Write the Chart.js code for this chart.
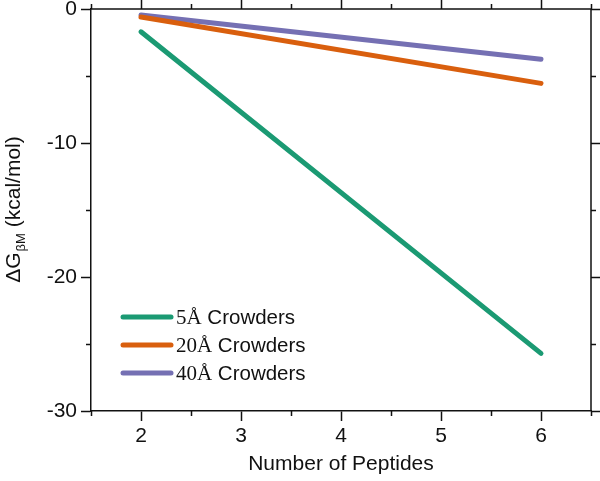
<!DOCTYPE html>
<html>
<head>
<meta charset="utf-8">
<script src="https://cdn.jsdelivr.net/npm/chart.js@4/dist/chart.umd.min.js"></script>
<style>
  html, body { margin: 0; padding: 0; background: #fff; }
  #wrap { width: 600px; height: 481px; }
</style>
</head>
<body>
<div id="wrap"><canvas id="chart"></canvas></div>
<script>
// ---- data ----
const peptides = [2, 6];
const crowder5 = [-1.7, -25.7];
const crowder20 = [-0.6, -5.55];
const crowder40 = [-0.45, -3.75];
const seriesLabels = ['5Å Crowders', '20Å Crowders', '40Å Crowders'];
const seriesColors = ['#1b9a73', '#d95f0e', '#7570b3'];

const AXIS = '#111';
const SANS = '"Liberation Sans", Arial, sans-serif';
const SERIF = '"Liberation Serif", "Times New Roman", serif';

function pts(ys) {
    return peptides.map((x, i) => ({ x: x, y: ys[i] }));
}

// minor ticks + top/right frame + legend + y title
const decor = {
    id: 'decor',
    afterDraw(chart) {
        const ctx = chart.ctx;
        const a = chart.chartArea;
        const xs = chart.scales.x;
        const ys = chart.scales.y;
        ctx.save();
        ctx.strokeStyle = AXIS;
        ctx.lineWidth = 1.5;
        // top + right border
        ctx.beginPath();
        ctx.moveTo(a.left, a.top); ctx.lineTo(a.right, a.top);
        ctx.moveTo(a.right, a.top); ctx.lineTo(a.right, a.bottom);
        ctx.stroke();

        ctx.beginPath();
        for (let v = 1.5; v <= 6.5001; v += 0.5) {
            const px = Math.round(xs.getPixelForValue(v)) + 0.5;
            const major = Math.abs(v - Math.round(v)) < 1e-6;
            const len = major ? 10 : 5;
            if (!major) { ctx.moveTo(px, a.bottom); ctx.lineTo(px, a.bottom + len); }
            ctx.moveTo(px, a.top); ctx.lineTo(px, a.top - len);
        }
        for (let v = -30; v <= 0.001; v += 5) {
            const py = Math.round(ys.getPixelForValue(v)) + 0.5;
            const major = v % 10 === 0;
            const len = major ? 10 : 5;
            if (!major) { ctx.moveTo(a.left, py); ctx.lineTo(a.left - len, py); }
            ctx.moveTo(a.right, py); ctx.lineTo(a.right + len, py);
        }
        ctx.stroke();

        // legend inside plot
        chart.data.datasets.forEach((ds, i) => {
            const y = 317 + i * 28;
            ctx.strokeStyle = ds.borderColor;
            ctx.lineWidth = 5;
            ctx.lineCap = 'round';
            ctx.beginPath();
            ctx.moveTo(123, y); ctx.lineTo(171, y);
            ctx.stroke();
            const sp = ds.label.indexOf(' ');
            const head = ds.label.slice(0, sp);
            const tail = ds.label.slice(sp);
            ctx.fillStyle = '#111';
            ctx.textBaseline = 'middle';
            ctx.textAlign = 'left';
            ctx.font = '21px ' + SERIF;
            ctx.fillText(head, 176, y + 1);
            const w = ctx.measureText(head).width;
            ctx.font = '20.5px ' + SANS;
            ctx.fillText(tail, 176 + w, y + 1);
        });

        // y title with subscript
        ctx.translate(13, (a.top + a.bottom) / 2);
        ctx.rotate(-Math.PI / 2);
        ctx.fillStyle = '#111';
        ctx.textBaseline = 'alphabetic';
        ctx.textAlign = 'left';
        const big = '21px ' + SANS, small = '13px ' + SANS;
        ctx.font = big;
        const w1 = ctx.measureText('ΔG').width;
        ctx.font = small;
        const w2 = ctx.measureText('βM').width;
        ctx.font = big;
        const w3 = ctx.measureText(' (kcal/mol)').width;
        let x0 = -(w1 + w2 + w3) / 2;
        ctx.fillText('ΔG', x0, 7);
        ctx.font = small;
        ctx.fillText('βM', x0 + w1 + 1, 12);
        ctx.font = big;
        ctx.fillText(' (kcal/mol)', x0 + w1 + w2 + 1, 7);
        ctx.restore();
    }
};

new Chart(document.getElementById('chart'), {
    type: 'line',
    data: {
        datasets: [crowder5, crowder20, crowder40].map((ys, i) => ({
            label: seriesLabels[i],
            data: pts(ys),
            borderColor: seriesColors[i],
            backgroundColor: seriesColors[i],
            borderWidth: 5,
            borderCapStyle: 'round',
            pointRadius: 0,
            tension: 0
        }))
    },
    options: {
        responsive: true,
        maintainAspectRatio: false,
        animation: false,
        layout: { padding: { top: 9, right: 9, left: 0, bottom: 0 } },
        plugins: {
            legend: { display: false },
            tooltip: { enabled: false }
        },
        scales: {
            x: {
                type: 'linear',
                min: 1.5,
                max: 6.5,
                afterFit: s => { s.height = 70; s.paddingLeft = 0; s.paddingRight = 0; },
                border: { display: true, color: AXIS, width: 1.5 },
                grid: {
                    drawOnChartArea: false,
                    tickLength: 10,
                    tickWidth: 1.5,
                    tickColor: c => Number.isInteger(c.tick.value) ? AXIS : 'rgba(0,0,0,0)'
                },
                ticks: {
                    stepSize: 0.5,
                    padding: 3,
                    color: '#111',
                    font: { family: SANS, size: 21 },
                    callback: v => Number.isInteger(v) ? String(v) : ''
                },
                title: {
                    display: true,
                    text: 'Number of Peptides',
                    color: '#111',
                    font: { family: SANS, size: 21 },
                    padding: { top: 6 }
                }
            },
            y: {
                min: -30,
                max: 0,
                afterFit: s => { s.width = 91; s.paddingTop = 0; s.paddingBottom = 0; },
                border: { display: true, color: AXIS, width: 1.5 },
                grid: {
                    drawOnChartArea: false,
                    tickLength: 10,
                    tickWidth: 1.5,
                    tickColor: c => c.tick.value % 10 === 0 ? AXIS : 'rgba(0,0,0,0)'
                },
                ticks: {
                    stepSize: 5,
                    padding: 4,
                    color: '#111',
                    font: { family: SANS, size: 21 },
                    callback: v => v % 10 === 0 ? String(v) : ''
                }
            }
        }
    },
    plugins: [decor]
});
</script>
</body>
</html>
